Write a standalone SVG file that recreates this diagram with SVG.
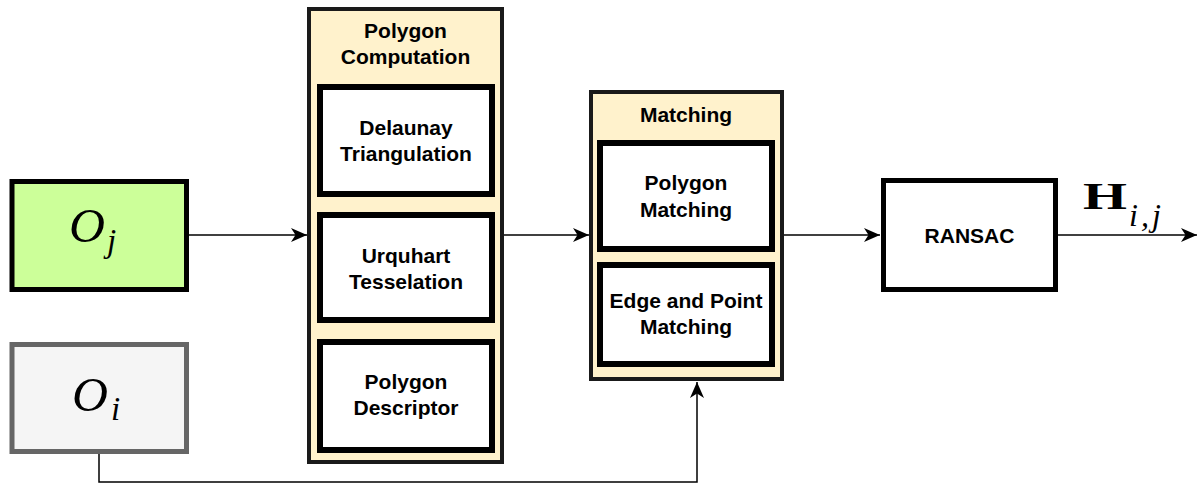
<svg xmlns="http://www.w3.org/2000/svg" width="1199" height="484" viewBox="0 0 1199 484">
  <style>
    .lbl { font-family: "Liberation Sans", Arial, sans-serif; font-weight: bold; font-size: 21px; fill: #000; text-anchor: middle; }
    .container { fill: #fff2cc; stroke: #1a1a1a; stroke-width: 4; }
    .inner { fill: #ffffff; stroke: #000000; stroke-width: 6; }
    .edge { fill: none; stroke: #000000; stroke-width: 1.5; }
    .math { font-family: "Liberation Serif", "Times New Roman", serif; fill: #000; }
  </style>
  <defs>
    <marker id="arrow" markerUnits="userSpaceOnUse" viewBox="0 0 16 14" refX="16" refY="7" markerWidth="16" markerHeight="14" orient="auto">
      <path d="M0,0 L16,7 L0,14 L4.5,7 Z" fill="#000000"/>
    </marker>
  </defs>

  <!-- connectors -->
  <g id="connectors">
    <line class="edge" x1="189" y1="235" x2="307" y2="235" marker-end="url(#arrow)"/>
    <line class="edge" x1="504" y1="235" x2="589" y2="235" marker-end="url(#arrow)"/>
    <line class="edge" x1="784" y1="235" x2="880" y2="235" marker-end="url(#arrow)"/>
    <line class="edge" x1="1058" y1="235" x2="1197" y2="235" marker-end="url(#arrow)"/>
    <polyline class="edge" points="99,454 99,482 697,482 697,382" marker-end="url(#arrow)"/>
  </g>

  <!-- input O_j -->
  <g id="node-oj">
    <rect x="12" y="181.5" width="174.5" height="108" fill="#ccff99" stroke="#000000" stroke-width="5"/>
    <text class="math" x="69" y="242" font-size="48" font-style="italic" textLength="36" lengthAdjust="spacingAndGlyphs">O</text>
    <text class="math" x="107" y="252" font-size="33" font-style="italic">j</text>
  </g>

  <!-- input O_i -->
  <g id="node-oi">
    <rect x="12" y="344.5" width="174.5" height="107" fill="#f5f5f5" stroke="#666666" stroke-width="5"/>
    <text class="math" x="72" y="411" font-size="48" font-style="italic" textLength="36" lengthAdjust="spacingAndGlyphs">O</text>
    <text class="math" x="111" y="420" font-size="33" font-style="italic">i</text>
  </g>

  <!-- polygon computation stage -->
  <g id="node-polygon-computation">
    <rect class="container" x="309" y="9" width="193" height="453"/>
    <text class="lbl" x="405.5" y="38">Polygon</text>
    <text class="lbl" x="405.5" y="64">Computation</text>
  </g>
  <g id="node-delaunay">
    <rect class="inner" x="320" y="87" width="172" height="107"/>
    <text class="lbl" x="406" y="135">Delaunay</text>
    <text class="lbl" x="406" y="161">Triangulation</text>
  </g>
  <g id="node-urquhart">
    <rect class="inner" x="320" y="215" width="172" height="105"/>
    <text class="lbl" x="406" y="263">Urquhart</text>
    <text class="lbl" x="406" y="289">Tesselation</text>
  </g>
  <g id="node-descriptor">
    <rect class="inner" x="320" y="342" width="172" height="108"/>
    <text class="lbl" x="406" y="389">Polygon</text>
    <text class="lbl" x="406" y="415">Descriptor</text>
  </g>

  <!-- matching stage -->
  <g id="node-matching">
    <rect class="container" x="591" y="92" width="191" height="287"/>
    <text class="lbl" x="686" y="122">Matching</text>
  </g>
  <g id="node-polygon-matching">
    <rect class="inner" x="600" y="143" width="172" height="106"/>
    <text class="lbl" x="686" y="190">Polygon</text>
    <text class="lbl" x="686" y="217">Matching</text>
  </g>
  <g id="node-edge-point-matching">
    <rect class="inner" x="600" y="265" width="172" height="99"/>
    <text class="lbl" x="686" y="308">Edge and Point</text>
    <text class="lbl" x="686" y="334">Matching</text>
  </g>

  <!-- RANSAC -->
  <g id="node-ransac">
    <rect x="883.5" y="180.5" width="172" height="109" fill="#ffffff" stroke="#000000" stroke-width="5"/>
    <text class="lbl" x="969.5" y="243" font-size="19">RANSAC</text>
  </g>

  <!-- output label -->
  <g id="label-output">
    <text class="math" x="1083" y="209" font-size="38" font-weight="bold" textLength="44" lengthAdjust="spacingAndGlyphs">H</text>
    <text class="math" x="1129" y="226" font-size="32" font-style="italic" letter-spacing="3">i,j</text>
  </g>
</svg>
